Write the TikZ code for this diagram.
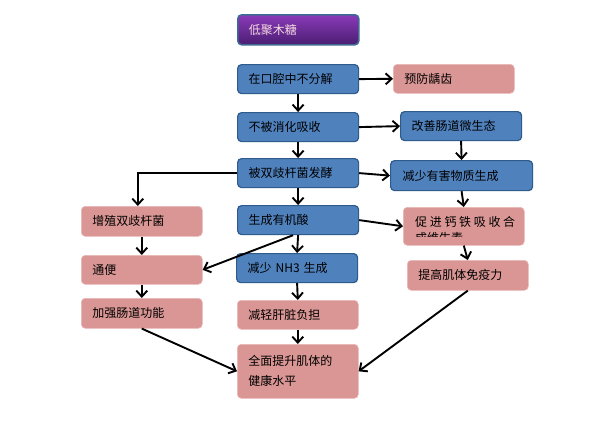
\documentclass[tikz,border=0pt]{standalone}
\usepackage{fontspec}
\setmainfont{Noto Sans CJK SC}
\usetikzlibrary{arrows.meta,calc}
\definecolor{boxblue}{HTML}{4F81BD}
\definecolor{boxblueline}{HTML}{2E5A8C}
\definecolor{boxpink}{HTML}{D99694}
\definecolor{boxpinkline}{HTML}{E8B8B7}
\definecolor{purpletop}{HTML}{8A3AB9}
\definecolor{purplebot}{HTML}{4A1E72}
\definecolor{purpleline}{HTML}{3F6A94}
\begin{document}
\begin{tikzpicture}[x=1pt, y=-1pt,
        % Estilos
        box/.style={rectangle, rounded corners=4pt, anchor=north west, minimum width=121pt, minimum height=29pt, text width=99pt, inner xsep=11pt, align=left, font=\fontsize{12}{18}\selectfont},
        bluebox/.style={box, draw=boxblueline, line width=1.2pt, fill=boxblue},
        pinkbox/.style={box, draw=boxpinkline, line width=0.6pt, fill=boxpink},
        topbox/.style={box, draw=purpleline, line width=1.6pt, top color=purpletop, bottom color=purplebot, text=white!85!purple},
        arrow/.style={-{Straight Barb[length=6pt, width=11pt]}, line width=1.9pt}
    ]
        \useasboundingbox (0,0) rectangle (600,429);

        % Coluna central
        \node (xos) [topbox, minimum height=30pt] at (237,14) {低聚木糖};
        \node (oral) [bluebox] at (237,64) {在口腔中不分解};
        \node (digest) [bluebox] at (237,112) {不被消化吸收};
        \node (ferment) [bluebox] at (237,158) {被双歧杆菌发酵};
        \node (acid) [bluebox] at (237,205) {生成有机酸};
        \node (ammonia) [bluebox] at (236,253) {减少 NH3 生成};
        \node (liver) [pinkbox] at (237,300) {减轻肝脏负担};
        \node (health) [pinkbox, minimum height=54pt, font=\fontsize{12}{20}\selectfont] at (237,344) {全面提升肌体的\\健康水平};

        % Coluna direita
        \node (caries) [pinkbox] at (393,64) {预防龋齿};
        \node (flora) [bluebox] at (400,111) {改善肠道微生态};
        \node (harm) [bluebox, minimum width=142pt, text width=118pt, minimum height=30pt] at (390,160) {减少有害物质生成};
        \node (calc) [pinkbox, minimum height=38pt] at (403,207) {};
        \begin{scope}
            \clip ($(calc.north west)+(0,0)$) rectangle ($(calc.south east)+(0,-9)$);
            \node (calctext) [anchor=north west, inner sep=0pt, text width=100pt, align=left, font=\fontsize{12}{16}\selectfont] at ($(calc.north west)+(12,9)$)
                {\hbox to 100pt{促\hfill 进\hfill 钙\hfill 铁\hfill 吸\hfill 收\hfill 合}\\成维生素};
        \end{scope}
        \node (immune) [pinkbox, minimum height=30pt] at (407,260) {提高肌体免疫力};

        % Coluna esquerda
        \node (bifido) [pinkbox, minimum height=30pt] at (81,206) {增殖双歧杆菌};
        \node (laxative) [pinkbox] at (81,255) {通便};
        \node (gut) [pinkbox, minimum height=30pt] at (81,298) {加强肠道功能};

        % --- Linhas de Conexão ---
        \draw [arrow] (oral.east) -- (caries.west);
        \draw [arrow] (oral.south) -- (digest.north);
        \draw [arrow] (digest.east) -- (flora.west);
        \draw [arrow] (digest.south) -- (ferment.north);
        \draw [arrow] (flora.south) -- (harm.north);
        \draw [arrow] (ferment.east) -- (harm.west);
        \draw [arrow] (ferment.west) -| ([xshift=-4pt]bifido.north);
        \draw [arrow] (ferment.south) -- (acid.north);
        \draw [arrow] (acid.east) -- (calc.west);
        \draw [arrow] (harm.south) -- (calc.north);
        \draw [arrow] ([xshift=-5pt]acid.south) -- (laxative.east);
        \draw [arrow] (acid.south) -- (ammonia.north);
        \draw [arrow] (calc.south) -- (immune.north);
        \draw [arrow] (bifido.south) -- (laxative.north);
        \draw [arrow] (laxative.south) -- (gut.north);
        \draw [arrow] (ammonia.south) -- (liver.north);
        \draw [arrow] (liver.south) -- (health.north);
        \draw [arrow] (gut.south) -- (health.west);
        \draw [arrow] (immune.south) -- (health.east);

    \end{tikzpicture}
\end{document}
